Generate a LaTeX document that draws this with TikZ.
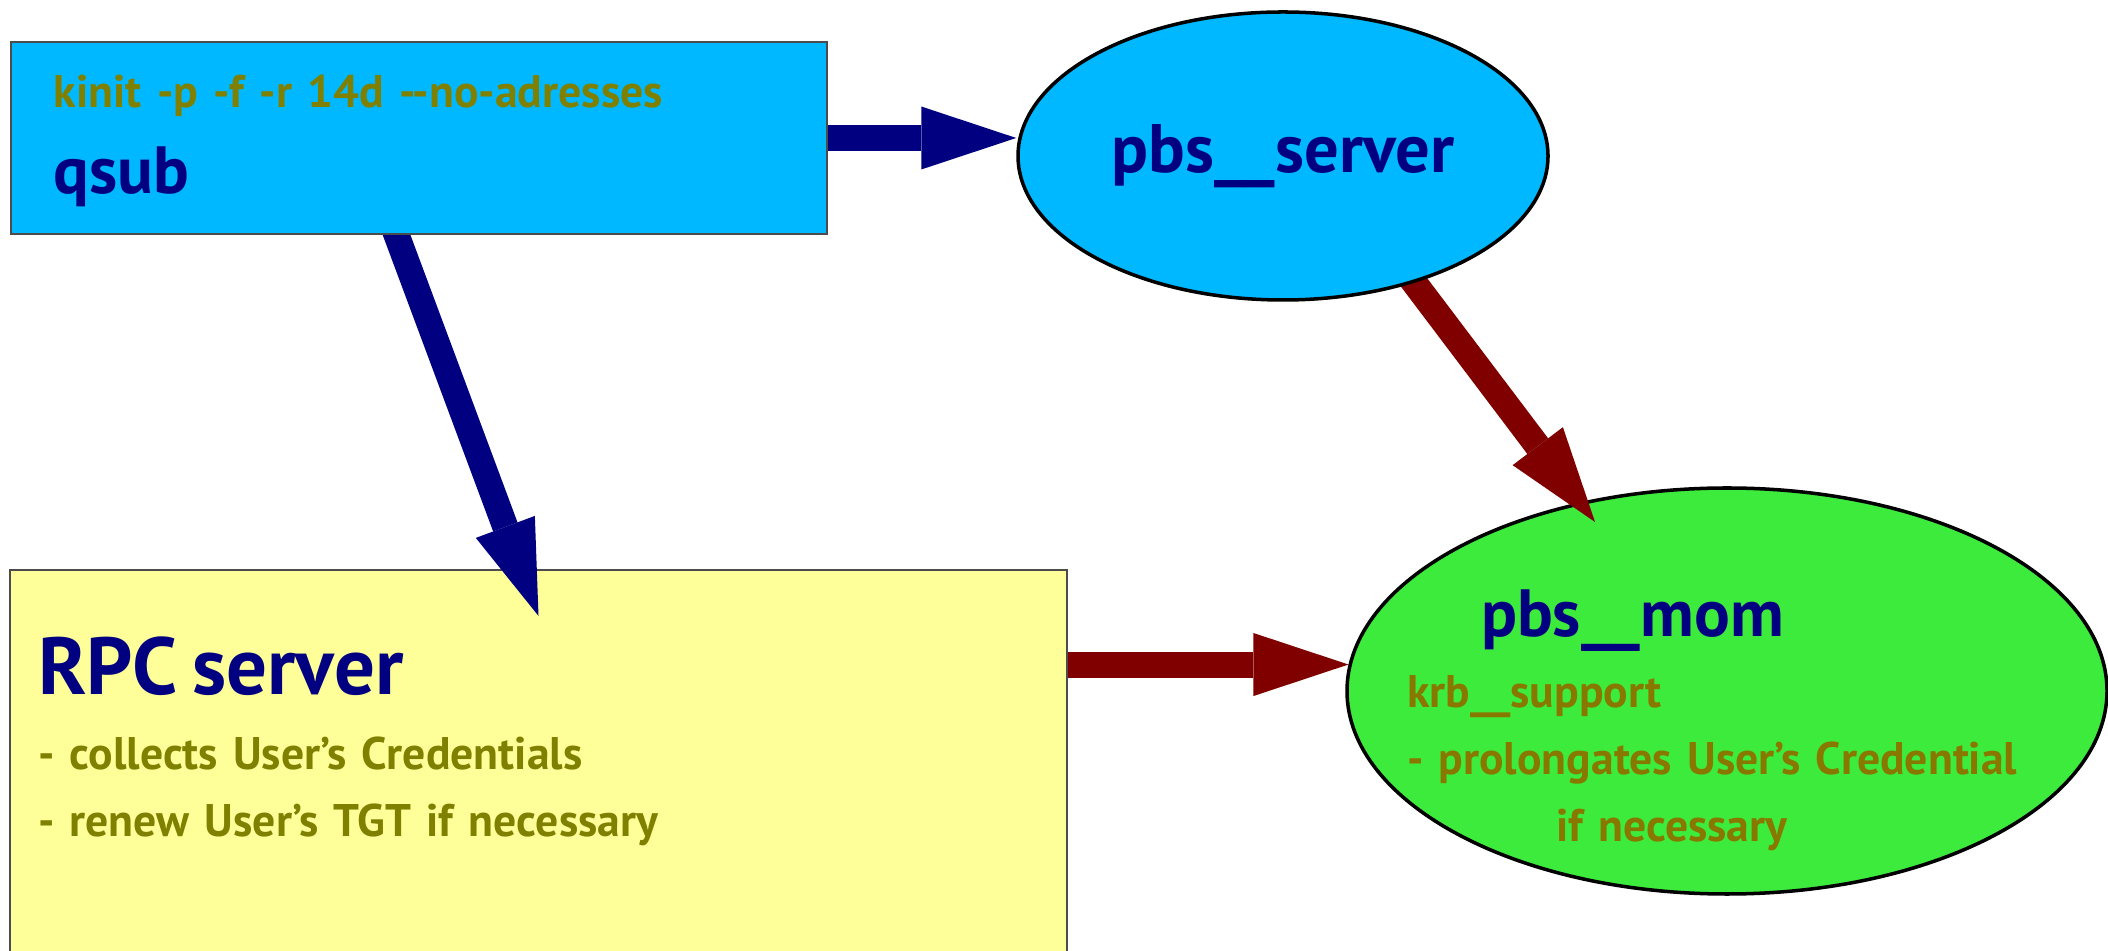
\documentclass[tikz,border=0pt]{standalone}
\usepackage{fontspec}
\setmainfont{PT Sans}
\usepackage{tikz}
\usetikzlibrary{shapes.geometric,arrows.meta,positioning}

\definecolor{qsubblue}{RGB}{0,184,255}
\definecolor{momgreen}{RGB}{61,235,61}
\definecolor{rpcyellow}{RGB}{255,255,153}
\definecolor{titleblue}{RGB}{0,0,128}
\definecolor{arrowred}{RGB}{128,0,0}
\definecolor{noteolive}{RGB}{128,128,0}
\definecolor{notebrown}{RGB}{136,120,0}

\pgfdeclarelayer{back}
\pgfdeclarelayer{front}
\pgfsetlayers{back,main,front}

\newcommand{\boxtitle}[2][19]{{\fontsize{#1}{19}\selectfont\bfseries\color{titleblue}#2}}

\begin{document}
\begin{tikzpicture}
	\tikzstyle{box} = [rectangle, draw = black!70, line width = 0.6pt, inner ysep = 0, align = left, font = \fontsize{13}{19}\selectfont\bfseries, text = noteolive]
	\tikzstyle{oval} = [ellipse, draw = black, line width = 1pt, inner sep = 0]
	\tikzstyle{bigarrow} = [line width = 0.26cm, -{Triangle[length = 0.95cm, width = 0.63cm, line width = 0pt]}]
	\useasboundingbox (0,0) rectangle (21.08,9.50);

\begin{pgfonlayer}{back}
% lower row
\node[box, fill = rpcyellow, inner xsep = 0.28cm, text width = 10.01cm, text height = 1.25cm, text depth = 3.05cm] (rpc) at (5.385, 1.65) {\boxtitle[23]{RPC server}\\[2.3pt]
	- collects User's Credentials\\
	- renew User's TGT if necessary};
\node[oval, fill = momgreen, minimum width = 7.60cm, minimum height = 4.06cm] (mom) at (17.27, 2.59) {};
\node[box, draw = none, inner sep = 0, text = notebrown, text width = 6.9cm, anchor = base west] (momnote) at (14.06, 3.13) {\hspace*{0.74cm}\boxtitle{pbs\_\_mom}\\[1.2pt]
	krb\_\_support\\
	- prolongates User's Credential\\
	\hspace*{1.49cm}if necessary};
\end{pgfonlayer}

\begin{pgfonlayer}{front}
% upper row
\node[box, fill = qsubblue, inner xsep = 0.43cm, text width = 7.30cm, text height = 0.66cm, text depth = 1.26cm] (qsub) at (4.19, 8.12) {kinit -p -f -r 14d -{}-no-adresses\\[5.2pt]
	\boxtitle{qsub}};
\node[oval, fill = qsubblue, minimum width = 5.30cm, minimum height = 2.88cm] (server) at (12.83, 7.94) {\boxtitle[19.5]{pbs\_\_server}};
\end{pgfonlayer}

	\coordinate[below = 0.47cm of rpc.north] (rpcin);
	\coordinate (momin) at (15.95, 4.28);
	\draw[bigarrow, titleblue] (qsub.east) -- (qsub.east -| server.west);
	\draw[bigarrow, titleblue, shorten <= -3pt] (qsub.-103.5) -- (rpcin);
	\draw[bigarrow, arrowred, shorten <= -3pt] (server.-44) -- (momin);
	\draw[bigarrow, arrowred] (rpc.east |- mom.176) -- (mom.176);
\end{tikzpicture}
\end{document}
